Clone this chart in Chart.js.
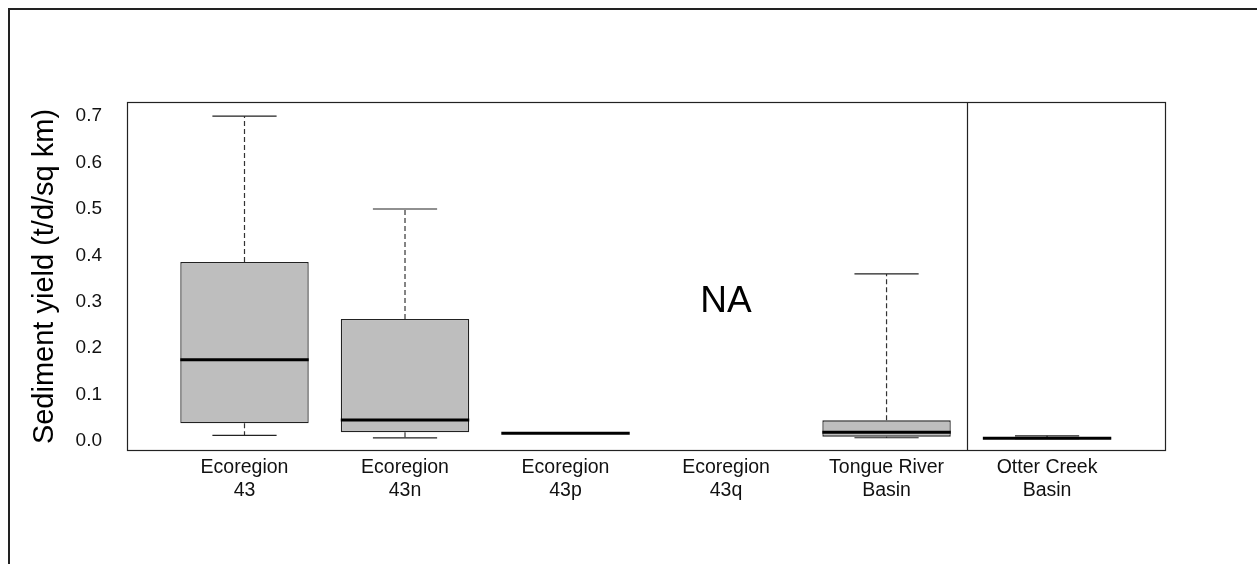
<!DOCTYPE html>
<html lang="en">
<head>
  <meta charset="UTF-8">
  <title>Sediment yield box plot</title>
  <style>
    body {
      margin: 0;
      background: #fff;
      font-family: 'Liberation Sans', Arial, sans-serif;
    }
    #wrap {
      position: relative;
      width: 1257px;
      height: 564px;
    }
    #frame {
      position: absolute;
      left: 8px;
      top: 8px;
      right: -10px;
      bottom: -10px;
      border-top: 2px solid #222;
      border-left: 2px solid #222;
    }
    canvas { position: absolute; left: 0; top: 0; }
  </style>
</head>
<body>
  <div id="wrap">
    <div id="frame"></div>
    <canvas id="boxChart" width="1257" height="564"></canvas>
  </div>

  <script src="https://cdn.jsdelivr.net/npm/chart.js"></script>

  <script>
    // groups along the x axis (R boxplot positions 1..6)
    const categories = [
      ['Ecoregion', '43'],
      ['Ecoregion', '43n'],
      ['Ecoregion', '43p'],
      ['Ecoregion', '43q'],
      ['Tongue River', 'Basin'],
      ['Otter Creek', 'Basin']
    ];
    const positions = [1, 2, 3, 4, 5, 6];

    // box plot statistics, t/d/sq km (null = no data)
    const whiskerLow  = [0.012, 0.0065, 0.0165, null, 0.007, 0.005];
    const q1          = [0.038, 0.019, 0.0165, null, 0.0093, 0.005];
    const median      = [0.175, 0.045, 0.0165, null, 0.019, 0.006];
    const q3          = [0.386, 0.263, 0.0165, null, 0.0445, 0.0075];
    const whiskerHigh = [0.700, 0.500, 0.0165, null, 0.360, 0.011];

    const yTicks = [0, 0.1, 0.2, 0.3, 0.4, 0.5, 0.6, 0.7];
    const dividerAt = 5.5;   // vertical line between ecoregions and Otter Creek
    const naLabel = { x: 4, y: 0.30, text: 'NA' };

    const boxHalf = 0.4;
    const capHalf = 0.2;
    const font = "'Liberation Sans', Arial, sans-serif";

    // build segments for the line datasets from the stats
    function hSegments(vals, half) {
      const pts = [];
      vals.forEach((v, i) => {
        if (v === null) return;
        const x = positions[i];
        pts.push({ x: x - half, y: v }, { x: x + half, y: v }, { x: x, y: null });
      });
      return pts;
    }
    function whiskerSegments() {
      const pts = [];
      positions.forEach((x, i) => {
        if (median[i] === null) return;
        pts.push({ x: x, y: q3[i] }, { x: x, y: whiskerHigh[i] }, { x: x, y: null });
        pts.push({ x: x, y: q1[i] }, { x: x, y: whiskerLow[i] }, { x: x, y: null });
      });
      return pts;
    }
    const boxes = positions
      .map((x, i) => (median[i] === null ? null : { x: x, y: [q1[i], q3[i]] }))
      .filter(d => d !== null);

    const extras = {
      id: 'extras',
      afterDatasetsDraw(chart) {
        const { ctx, chartArea: a, scales } = chart;
        ctx.save();
        // plot frame
        ctx.strokeStyle = '#222';
        ctx.lineWidth = 1.2;
        ctx.strokeRect(a.left + 0.5, a.top + 0.5, a.right - a.left - 1, a.bottom - a.top - 1);
        // divider
        const dx = Math.round(scales.x.getPixelForValue(dividerAt)) + 0.5;
        ctx.beginPath();
        ctx.moveTo(dx, a.top);
        ctx.lineTo(dx, a.bottom);
        ctx.stroke();
        // NA marker
        ctx.fillStyle = '#000';
        ctx.font = '37px ' + font;
        ctx.textAlign = 'center';
        ctx.textBaseline = 'middle';
        ctx.fillText(naLabel.text, scales.x.getPixelForValue(naLabel.x), scales.y.getPixelForValue(naLabel.y));
        ctx.restore();
      }
    };

    new Chart(document.getElementById('boxChart'), {
      type: 'bar',
      data: {
        datasets: [
          {
            type: 'line',
            label: 'whiskers',
            data: whiskerSegments(),
            borderColor: '#333',
            borderWidth: 1.2,
            borderDash: [5, 3],
            pointRadius: 0,
            spanGaps: false,
            order: 3
          },
          {
            type: 'bar',
            label: 'IQR',
            data: boxes,
            backgroundColor: '#bebebe',
            borderColor: '#222',
            borderWidth: 1.3,
            borderSkipped: false,
            categoryPercentage: 1,
            barPercentage: 0.8,
            order: 2
          },
          {
            type: 'line',
            label: 'caps',
            data: hSegments(whiskerHigh, capHalf).concat(hSegments(whiskerLow, capHalf)),
            borderColor: '#222',
            borderWidth: 1.2,
            pointRadius: 0,
            spanGaps: false,
            order: 1
          },
          {
            type: 'line',
            label: 'median',
            data: hSegments(median, boxHalf),
            borderColor: '#000',
            borderWidth: 3,
            borderCapStyle: 'butt',
            pointRadius: 0,
            spanGaps: false,
            order: 0
          }
        ]
      },
      options: {
        responsive: false,
        animation: false,
        layout: { padding: { top: 102, right: 91, bottom: 0, left: 0 } },
        plugins: {
          legend: { display: false },
          tooltip: { enabled: false }
        },
        scales: {
          x: {
            type: 'linear',
            offset: false,
            min: 0.268,
            max: 6.741,
            grid: { display: false, drawTicks: false },
            border: { display: false },
            afterBuildTicks: s => { s.ticks = positions.map(v => ({ value: v })); },
            afterFit: s => { s.height = 113; },
            ticks: {
              autoSkip: false,
              maxRotation: 0,
              padding: 5,
              color: '#111',
              font: { family: font, size: 19.5, lineHeight: 1.2 },
              callback: v => categories[positions.indexOf(v)]
            }
          },
          y: {
            min: -0.0216,
            max: 0.7306,
            grid: { display: false, drawTicks: false },
            border: { display: false },
            afterBuildTicks: s => { s.ticks = yTicks.map(v => ({ value: v })); },
            afterFit: s => { s.width = 127; },
            ticks: {
              padding: 25,
              color: '#111',
              font: { family: font, size: 19 },
              callback: v => v.toFixed(1)
            },
            title: {
              display: true,
              text: 'Sediment yield (t/d/sq km)',
              color: '#000',
              font: { family: font, size: 29 },
              padding: { top: 28, bottom: 0 }
            }
          }
        }
      },
      plugins: [extras]
    });
  </script>
</body>
</html>
